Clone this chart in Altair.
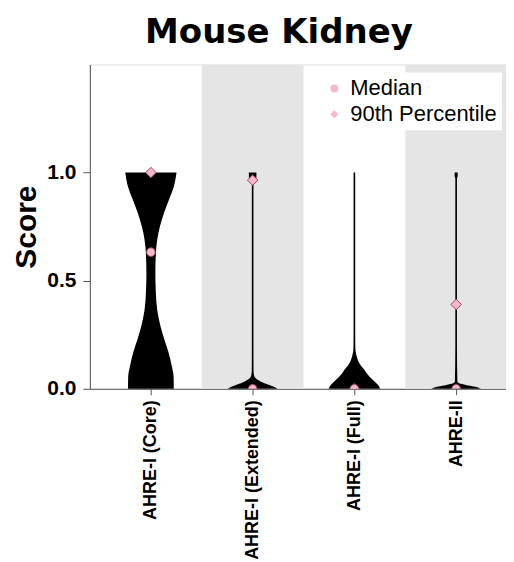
import altair as alt
import pandas as pd

categories = ["AHRE-I (Core)", "AHRE-I (Extended)", "AHRE-I (Full)", "AHRE-II"]
positions = [1, 2, 3, 4]

# Violin outlines: score levels and half-widths (in category units)
core_score = [0.0, 0.057, 0.103, 0.165, 0.226, 0.288, 0.365, 0.442, 0.534, 0.626, 0.688, 0.749, 0.811, 0.872, 0.934, 1.0]
core_half = [0.225, 0.223, 0.206, 0.175, 0.134, 0.095, 0.062, 0.049, 0.044, 0.049, 0.062, 0.088, 0.127, 0.176, 0.225, 0.252]

ext_score = [0.0, 0.009, 0.018, 0.026, 0.042, 0.057, 0.08, 0.2, 0.5, 0.95, 0.965, 0.977, 1.0]
ext_half = [0.245, 0.21, 0.164, 0.115, 0.049, 0.017, 0.009, 0.008, 0.008, 0.008, 0.02, 0.037, 0.037]

full_score = [0.0, 0.01, 0.026, 0.042, 0.057, 0.072, 0.088, 0.103, 0.118, 0.134, 0.149, 0.165, 0.18, 0.25, 0.6, 1.0]
full_half = [0.252, 0.245, 0.216, 0.18, 0.147, 0.12, 0.098, 0.07, 0.049, 0.033, 0.023, 0.015, 0.010, 0.008, 0.008, 0.008]

ii_score = [0.0, 0.006, 0.011, 0.018, 0.026, 0.035, 0.2, 0.6, 0.97, 0.985, 1.0]
ii_half = [0.245, 0.215, 0.176, 0.098, 0.03, 0.012, 0.008, 0.008, 0.008, 0.015, 0.015]

median_vals = [0.632, 0.0, 0.0, 0.0]
p90_vals = [1.0, 0.965, 0.0, 0.39]

band_starts = [1.5, 3.5]
band_ends = [2.5, 4.5]
y_min, y_max = 0.0, 1.5
x_min, x_max = 0.4, 4.49

pink_fill = "#F6B8C9"
pink_stroke = "#9E4463"
axis_gray = "#555555"

rows = []
for pos, sc, hw in zip(positions, [core_score, ext_score, full_score, ii_score],
                       [core_half, ext_half, full_half, ii_half]):
    for s, h in zip(sc, hw):
        rows.append({"pos": pos, "score": s, "left": pos - h, "right": pos + h})
violin_df = pd.DataFrame(rows)

med_df = pd.DataFrame({"pos": positions, "value": median_vals, "stat": ["Median"] * 4})
p90_df = pd.DataFrame({"pos": positions, "value": p90_vals, "stat": ["90th Percentile"] * 4})

band_df = pd.DataFrame({"x0": band_starts, "x1": band_ends,
                        "y0": [y_min] * len(band_starts), "y1": [y_max] * len(band_starts)})

label_expr = "[" + ",".join("'" + c + "'" for c in categories) + "][datum.value - 1]"

x_scale = alt.Scale(domain=[x_min, x_max], nice=False, zero=False)
y_scale = alt.Scale(domain=[y_min, y_max], nice=False, zero=False)

x_axis = alt.Axis(values=positions, labelExpr=label_expr, title=None, labelAngle=-90,
                  labelFontSize=18, labelFontWeight="bold", labelFont="Liberation Sans",
                  labelColor="black", tickSize=6, labelPadding=5, grid=False,
                  labelOverlap=False, labelFlush=False, labelBound=False,
                  domainColor=axis_gray, tickColor=axis_gray)
y_axis = alt.Axis(values=[0, 0.5, 1.0], format=".1f", title="Score", titleFontSize=30,
                  titleFontWeight="bold", titleFont="Liberation Sans", titleColor="black",
                  titlePadding=5, labelFontSize=21, labelFontWeight="bold",
                  labelFont="Liberation Sans", labelColor="black", tickSize=7, labelPadding=7,
                  grid=False, domainColor=axis_gray, tickColor=axis_gray, labelFlush=False)

shape_scale = alt.Scale(domain=["Median", "90th Percentile"], range=["circle", "diamond"])
shape_legend = alt.Legend(title=None, orient="none", legendX=229, legendY=8,
                          fillColor="white", padding=5, labelFontSize=22,
                          labelFont="Liberation Sans", labelColor="black",
                          symbolSize=64, symbolFillColor=pink_fill,
                          symbolStrokeColor=pink_stroke, symbolStrokeWidth=1,
                          labelOffset=5, rowPadding=4)

bands = alt.Chart(band_df).mark_rect(color="#E5E5E5", clip=True).encode(
    x=alt.X("x0:Q", scale=x_scale, axis=x_axis),
    x2="x1:Q",
    y=alt.Y("y0:Q", scale=y_scale, axis=y_axis),
    y2="y1:Q",
)

violins = alt.Chart(violin_df).mark_area(
    orient="horizontal", interpolate="monotone", color="black", opacity=1
).encode(
    y=alt.Y("score:Q", scale=y_scale),
    x=alt.X("left:Q", scale=x_scale),
    x2=alt.X2("right:Q"),
    detail=alt.Detail("pos:N"),
)

diamonds = alt.Chart(p90_df).mark_point(
    filled=True, fill=pink_fill, stroke=pink_stroke, strokeWidth=1, opacity=1, size=110, clip=True
).encode(
    x=alt.X("pos:Q", scale=x_scale),
    y=alt.Y("value:Q", scale=y_scale),
    shape=alt.Shape("stat:N", scale=shape_scale, legend=shape_legend),
)

circles = alt.Chart(med_df).mark_point(
    filled=True, fill=pink_fill, stroke=pink_stroke, strokeWidth=1, opacity=1, size=75, clip=True
).encode(
    x=alt.X("pos:Q", scale=x_scale),
    y=alt.Y("value:Q", scale=y_scale),
    shape=alt.Shape("stat:N", scale=shape_scale, legend=shape_legend),
)

chart = alt.layer(bands, violins, diamonds, circles).properties(
    width=417, height=325,
    title=alt.TitleParams("Mouse Kidney", font="DejaVu Sans", fontSize=34, fontWeight="bold",
                          color="black", anchor="middle", dx=-19, offset=14),
    autosize=alt.AutoSizeParams(type="none"),
    padding={"left": 82, "top": 56, "right": 0, "bottom": 170},
).configure_view(stroke=axis_gray, strokeWidth=1).configure(background="white")

chart.save("out.html", embed_options={"renderer": "svg", "actions": False})
